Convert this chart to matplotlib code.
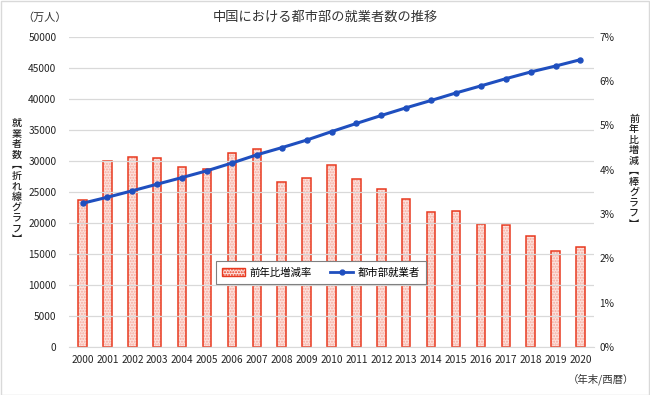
import matplotlib
matplotlib.use("Agg")
import matplotlib.pyplot as plt
from matplotlib.patches import Patch, Rectangle
from matplotlib.lines import Line2D
from matplotlib.ticker import FuncFormatter

plt.rcParams['font.family'] = ['Noto Sans CJK JP', 'DejaVu Sans']

years = [str(y) for y in range(2000, 2021)]
employment = [23151, 24123, 25159, 26230, 27293, 28389, 29630, 30953, 32103, 33322,
              34687, 36003, 37287, 38527, 39703, 40916, 42051, 43208, 44292, 45249, 46271]
growth_pct = [3.31, 4.20, 4.29, 4.26, 4.05, 4.02, 4.37, 4.47, 3.72, 3.80,
              4.10, 3.79, 3.57, 3.33, 3.05, 3.06, 2.77, 2.75, 2.51, 2.16, 2.26]

title = "中国における都市部の就業者数の推移"
line_label = "都市部就業者"
bar_label = "前年比増減率"
left_label = "就業者数︻折れ線グラフ︼"
right_label = "前年比増減︻棒グラフ︼"

W, H = 650, 395
fig = plt.figure(figsize=(6.5, 3.95), dpi=100)
fig.patches.append(Rectangle((0.001, 0.001), 0.997, 0.997, transform=fig.transFigure,
                             fill=False, edgecolor='#d9d9d9', linewidth=1))

ax = fig.add_axes([0.106, 0.1215, 0.808, 0.786])
ax2 = ax.twinx()

x = list(range(len(years)))
bw = 0.34
ax2.bar(x, growth_pct, width=bw, facecolor='#fde2dd', edgecolor='#f5a99d',
        hatch='......', linewidth=0, zorder=2)
ax2.bar(x, growth_pct, width=bw, fill=False, edgecolor='#e8391f', linewidth=1.1, zorder=3)

ax.plot(x, employment, color='#1f4fbf', linewidth=2.2, marker='o', markersize=3.6, zorder=5)

ax.set_ylim(0, 50000)
ax.set_yticks(range(0, 50001, 5000))
ax2.set_ylim(0, 7)
ax2.set_yticks(range(0, 8))
ax2.yaxis.set_major_formatter(FuncFormatter(lambda v, p: f"{int(v)}%"))
ax.set_xlim(-0.55, 20.55)
ax.set_xticks(x)
ax.set_xticklabels(years)

ax.set_zorder(ax2.get_zorder() + 1)
ax.patch.set_visible(False)

for a in (ax, ax2):
    for s in a.spines.values():
        s.set_visible(False)
    a.tick_params(length=0, labelsize=7.3, colors='#222222')
ax.grid(axis='y', color='#d9d9d9', linewidth=0.9)
ax.set_axisbelow(True)
ax.spines['bottom'].set_visible(True)
ax.spines['bottom'].set_color('#d9d9d9')
ax.tick_params(axis='y', pad=9)
ax2.tick_params(axis='y', pad=4)
ax.tick_params(axis='x', pad=6)

fig.text(0.5, 0.955, title, ha='center', va='center', fontsize=9.5, color='#333333')
fig.text(0.069, 0.955, "（万人）", ha='center', va='center', fontsize=8, color='#333333')
fig.text(0.925, 0.04, "（年末/西暦）", ha='center', va='center', fontsize=7.5, color='#333333')


def vertical_text(label, xpix, ypix_center, step=10.5):
    n = len(label)
    top = ypix_center - step * (n - 1) / 2
    for i, ch in enumerate(label):
        yp = top + i * step
        fig.text(xpix / W, 1 - yp / H, ch, ha='center', va='center', fontsize=7.2,
                 color='#222222', fontweight='medium')


vertical_text(left_label, 17, 181)
vertical_text(right_label, 634, 171)

handles = [Patch(facecolor='#fde2dd', edgecolor='#e8391f', hatch='......', linewidth=1),
           Line2D([0], [0], color='#1f4fbf', linewidth=2, marker='o', markersize=3.5)]
leg = ax.legend(handles, [bar_label, line_label], loc='center', bbox_to_anchor=(0.48, 0.24),
                ncol=2, fontsize=7.5, frameon=True, fancybox=False, edgecolor='#808080',
                framealpha=1, handlelength=2.2, columnspacing=1.8, handletextpad=0.4,
                borderpad=0.6)
leg.get_frame().set_linewidth(0.8)

fig.savefig("out.png", dpi=100)
